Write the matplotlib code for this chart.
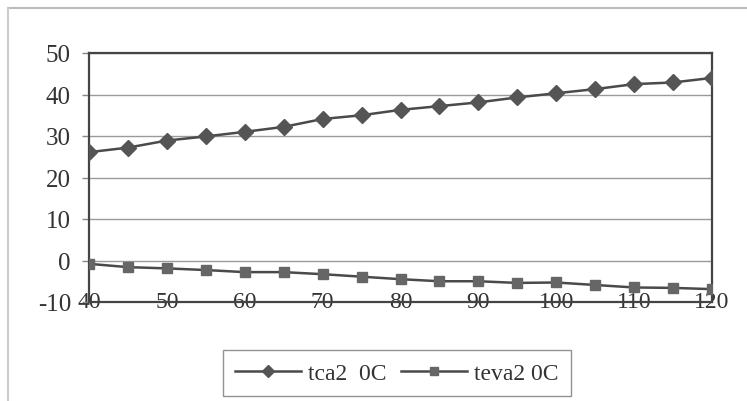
import matplotlib
matplotlib.use("Agg")
import matplotlib.pyplot as plt
from matplotlib.lines import Line2D

x_vals = [40, 45, 50, 55, 60, 65, 70, 75, 80, 85, 90, 95, 100, 105, 110, 115, 120]
tca = [26.1, 27.2, 28.9, 29.9, 31.0, 32.2, 34.1, 35.0, 36.3, 37.2, 38.1, 39.3, 40.3, 41.3, 42.5, 42.9, 44.0]
teva = [-0.8, -1.6, -1.9, -2.3, -2.8, -2.8, -3.3, -3.9, -4.5, -5.0, -5.0, -5.4, -5.3, -5.9, -6.5, -6.6, -6.9]
x_ticks = [40, 50, 60, 70, 80, 90, 100, 110, 120]
y_ticks = [-10, 0, 10, 20, 30, 40, 50]
labels = ["tca2  0C", "teva2 0C"]

plt.rcParams['font.family'] = ['Liberation Serif', 'DejaVu Serif']
plt.rcParams['axes.unicode_minus'] = False

W, H = 747, 402
fig = plt.figure(figsize=(W / 100, H / 100), dpi=100)
ax = fig.add_axes([89 / W, 1 - 303 / H, (712 - 89) / W, (303 - 54) / H])

line_col = '#4a4a4a'
ax.plot(x_vals, tca, color=line_col, lw=1.8, marker='D', markersize=8,
        markerfacecolor='#555555', markeredgecolor='#555555', label=labels[0], zorder=3)
ax.plot(x_vals, teva, color=line_col, lw=1.8, marker='s', markersize=7.5,
        markerfacecolor='#666666', markeredgecolor='#666666', label=labels[1], zorder=3)

ax.set_xlim(40, 120)
ax.set_ylim(-10, 50)
ax.set_xticks(x_ticks)
ax.set_yticks(y_ticks)
ax.yaxis.grid(True, color='#9a9a9a', lw=1.0)
ax.set_axisbelow(True)
for s in ax.spines.values():
    s.set_color('#444444')
    s.set_linewidth(1.6)

ax.tick_params(axis='y', length=5, width=1.0, color='#888888', pad=8, labelsize=18, labelcolor='#333333')
ax.tick_params(axis='x', length=0, pad=-8, labelsize=17, labelcolor='#333333')

leg = fig.legend(loc='center', bbox_to_anchor=(397 / W, 1 - 374 / H), ncol=2,
                 fontsize=17, frameon=True, fancybox=False, handlelength=2.8,
                 handletextpad=0.3, columnspacing=0.6, borderpad=0.5,
                 labelcolor='#333333', markerscale=0.8)
leg.get_frame().set_edgecolor('#777777')
leg.get_frame().set_linewidth(1.0)

# faint outer border of the chart area
fig.add_artist(Line2D([8 / W, 1.0], [1 - 9 / H, 1 - 9 / H], transform=fig.transFigure,
                      color='#bbbbbb', lw=1.5))
fig.add_artist(Line2D([8 / W, 8 / W], [0.0, 1 - 9 / H], transform=fig.transFigure,
                      color='#cccccc', lw=1.5))

fig.savefig('out.png', dpi=100)
